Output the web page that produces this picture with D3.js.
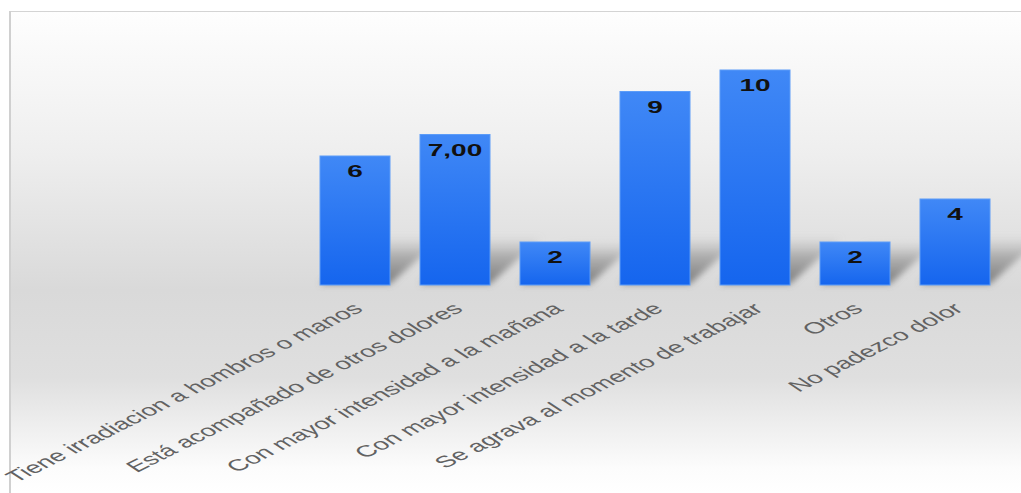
<!DOCTYPE html>
<html>
<head>
<meta charset="utf-8">
<script src="https://cdn.jsdelivr.net/npm/d3@7"></script>
<style>
  body { margin: 0; background: #fff; }
  svg { display: block; }
</style>
</head>
<body>
<div id="chart"></div>
<script>
// chart data
var categories = [
  "Tiene irradiacion a hombros o manos",
  "Está acompañado de otros dolores",
  "Con mayor intensidad a la mañana",
  "Con mayor intensidad a la tarde",
  "Se agrava al momento de trabajar",
  "Otros",
  "No padezco dolor"
];
var values = [6, 7, 2, 9, 10, 2, 4];
var valueLabels = ["6", "7,00", "2", "9", "10", "2", "4"];

var width = 1021, height = 493;
var baseY = 285;
var stretch = 1.75; // the picture is wider than tall text would be

var svg = d3.select("#chart")
  .append("svg")
    .attr("width", width)
    .attr("height", height);

var defs = svg.append("defs");

// background gradient
var bg = defs.append("linearGradient")
    .attr("id", "bgGrad")
    .attr("x1", 0).attr("y1", 0).attr("x2", 0).attr("y2", 1);
[[0, "#fefefe"], [0.3, "#eeeeee"], [0.58, "#d9d9d9"], [0.76, "#dfdfdf"], [0.95, "#fcfcfc"], [1, "#ffffff"]]
  .forEach(function(s){ bg.append("stop").attr("offset", s[0]).attr("stop-color", s[1]); });

// bar gradient
var bar = defs.append("linearGradient")
    .attr("id", "barGrad")
    .attr("x1", 0).attr("y1", 0).attr("x2", 0).attr("y2", 1);
bar.append("stop").attr("offset", 0).attr("stop-color", "#4088f6");
bar.append("stop").attr("offset", 1).attr("stop-color", "#1565ee");

// shadow fades going up
var sh = defs.append("linearGradient")
    .attr("id", "shGrad")
    .attr("x1", 0).attr("y1", 1).attr("x2", 0).attr("y2", 0);
sh.append("stop").attr("offset", 0).attr("stop-color", "#6e6e6e").attr("stop-opacity", 0.9);
sh.append("stop").attr("offset", 0.6).attr("stop-color", "#8e8e8e").attr("stop-opacity", 0.6);
sh.append("stop").attr("offset", 1).attr("stop-color", "#b0b0b0").attr("stop-opacity", 0.05);

defs.append("filter")
    .attr("id", "blur")
    .attr("x", "-50%").attr("y", "-50%").attr("width", "200%").attr("height", "200%")
  .append("feGaussianBlur")
    .attr("stdDeviation", 3);

// frame
svg.append("rect")
    .attr("x", 10).attr("y", 11)
    .attr("width", width - 10).attr("height", height - 11)
    .attr("fill", "url(#bgGrad)");
svg.append("line")
    .attr("x1", 9).attr("x2", width).attr("y1", 11.5).attr("y2", 11.5)
    .attr("stroke", "#d4d4d4").attr("stroke-width", 1);
svg.append("line")
    .attr("x1", 10).attr("x2", 10).attr("y1", 11).attr("y2", height)
    .attr("stroke", "#d0d0d0").attr("stroke-width", 2);

// scales
var x = d3.scaleBand()
  .domain(categories)
  .range([305, 1005])
  .paddingInner(0.3)
  .paddingOuter(0.15);

var y = d3.scaleLinear()
  .domain([0, 10])
  .range([baseY, 70]);

// shadows (skewed towards upper right)
svg.append("g")
    .attr("filter", "url(#blur)")
  .selectAll("polygon")
  .data(categories)
  .enter()
  .append("polygon")
    .attr("points", function(d, i) {
      var x0 = x(d), x1 = x(d) + x.bandwidth();
      var h = Math.min(baseY - y(values[i]), 48);
      return [[x0, baseY - 1], [x1, baseY - 1], [x1 + h * 1.1, baseY - h], [x0 + h * 1.1, baseY - h]].join(" ");
    })
    .attr("fill", "url(#shGrad)");

// bars
svg.selectAll("rect.bar")
  .data(categories)
  .enter()
  .append("rect")
    .attr("class", "bar")
    .attr("x", function(d) { return x(d); })
    .attr("y", function(d, i) { return y(values[i]); })
    .attr("width", x.bandwidth())
    .attr("height", function(d, i) { return baseY - y(values[i]); })
    .attr("fill", "url(#barGrad)")
    .attr("stroke", "#5c9cf8")
    .attr("stroke-width", 1);

// value labels
svg.selectAll("text.val")
  .data(categories)
  .enter()
  .append("text")
    .attr("class", "val")
    .attr("transform", function(d, i) {
      return "translate(" + (x(d) + x.bandwidth() / 2) + "," + (y(values[i]) + 15.5) + ") scale(" + stretch + ",1)";
    })
    .attr("dy", "0.36em")
    .attr("text-anchor", "middle")
    .style("font-family", "'Liberation Sans', Arial, sans-serif")
    .style("font-weight", "bold")
    .style("font-size", "16px")
    .style("fill", "#111")
    .text(function(d, i) { return valueLabels[i]; });

// category axis
var xAxis = svg.append("g")
    .attr("transform", "translate(0," + baseY + ")")
    .call(d3.axisBottom(x).tickSize(0));
xAxis.select(".domain").remove();
xAxis.selectAll("text")
    .attr("x", 0).attr("y", 0).attr("dy", "0.35em")
    .attr("transform", "translate(3,21) scale(" + stretch + ",1) rotate(-41)")
    .style("text-anchor", "end")
    .style("font-family", "'Liberation Sans', Arial, sans-serif")
    .style("font-size", "16px")
    .style("fill", "#626262");
</script>
</body>
</html>
